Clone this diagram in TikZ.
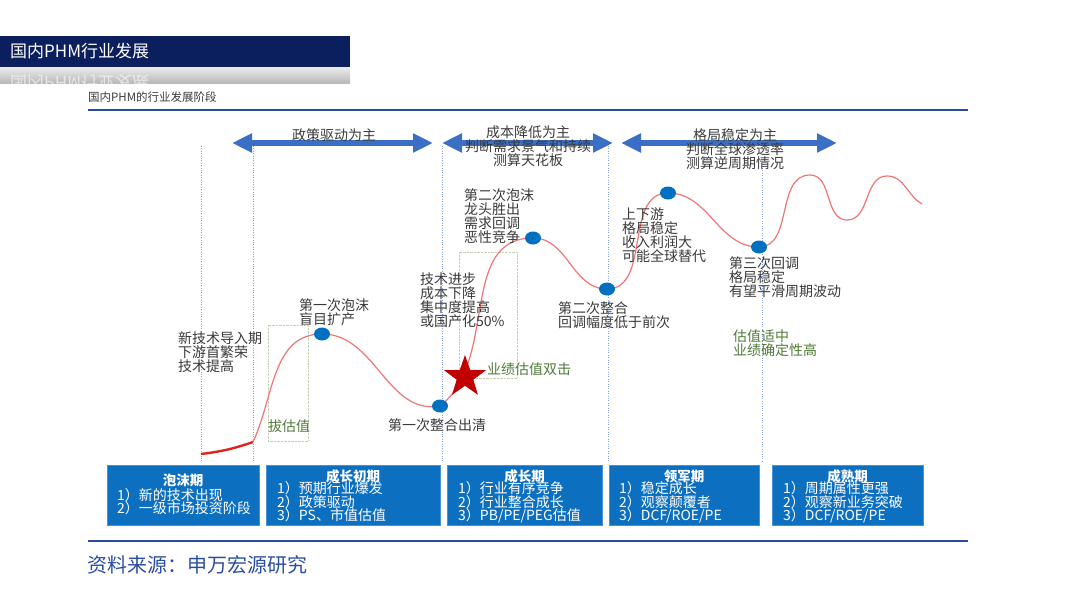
\documentclass[tikz,border=0pt]{standalone}
\usepackage{fontspec}
\setmainfont{Noto Sans CJK SC}
\usetikzlibrary{arrows.meta,shapes.geometric}
\definecolor{navy}{HTML}{0B1F5E}
\definecolor{rule}{HTML}{2B4C9C}
\definecolor{spanblue}{HTML}{3B6FC6}
\definecolor{dotblue}{HTML}{0070C0}
\definecolor{phaseblue}{HTML}{0D6FC0}
\definecolor{phaseedge}{HTML}{4A90D4}
\definecolor{guide}{HTML}{8AA4DA}
\definecolor{curvered}{HTML}{F27474}
\definecolor{hotred}{HTML}{E3231F}
\definecolor{starred}{HTML}{C00000}
\definecolor{txtgray}{HTML}{3A3A3A}
\definecolor{valgreen}{HTML}{4F7A38}
\definecolor{valbox}{HTML}{C2D1B4}
\definecolor{source}{HTML}{2A4E9E}
\begin{document}
\begin{tikzpicture}[
	x=1pt, y=1pt,
	dot/.style={ ellipse, fill=dotblue, inner sep=0pt, minimum width=16pt, minimum height=13pt },
	note/.style={ anchor=north west, align=left, inner sep=0pt, text=txtgray, font=\fontsize{14}{14}\selectfont },
	valnote/.style={ note, text=valgreen },
	spanlabel/.style={ anchor=north, align=center, inner sep=0pt, text=txtgray, font=\fontsize{14}{14}\selectfont },
	span/.style={ draw=spanblue, line width=6pt, {Triangle[length=20pt,width=18pt]}-{Triangle[length=20pt,width=18pt]} },
	guideline/.style={ draw=guide, thin, dotted },
	valframe/.style={ draw=valbox, thin, densely dotted },
	phase/.style={ draw=phaseedge, fill=phaseblue, line width=0.8pt, inner sep=0pt },
	phtitle/.style={ text=white, inner sep=0pt, font=\fontsize{13.5}{14}\selectfont\bfseries },
	phitem/.style={ anchor=north west, align=left, inner sep=0pt, text=white, font=\fontsize{14}{13.5}\selectfont },
	curve/.style={ draw=curvered, line width=1.2pt }
]

\useasboundingbox (0,0) rectangle (1080,-608);

\fill[navy] (0,-36) rectangle (350,-67);
\node at (10,-51) (head) [anchor=west, inner sep=0pt, text=white, font=\fontsize{17}{17}\selectfont] {国内PHM行业发展};
\begin{scope}
\clip (0,-67) rectangle (350,-83);
\shade[top color=gray!15, bottom color=gray!55] (0,-67) rectangle (350,-83);
\node at (10,-83) (headecho) [anchor=west, inner sep=0pt, text=white, opacity=0.6, yscale=-1, transform shape, font=\fontsize{17}{17}\selectfont] {国内PHM行业发展};
\end{scope}

\node at (88,-97) (subtitle) [anchor=west, inner sep=0pt, text=txtgray, font=\fontsize{11.5}{11.5}\selectfont] {国内PHM的行业发展阶段};
\draw[rule, line width=2.5pt] (88,-110) -- (968,-110);

\draw[guideline] (201,-146) -- (201,-462);
\draw[guideline] (253,-146) -- (253,-462);
\draw[guideline] (442,-146) -- (442,-462);
\draw[guideline] (608,-146) -- (608,-462);
\draw[guideline] (762,-168) -- (762,-462);

\coordinate (s1l) at (232,-143);
\coordinate (s1r) at (433,-143);
\coordinate (s2l) at (442,-143);
\coordinate (s2r) at (613,-143);
\coordinate (s3l) at (621,-143);
\coordinate (s3r) at (837,-143);
\draw[span] (s1l) -- (s1r);
\draw[span] (s2l) -- (s2r);
\draw[span] (s3l) -- (s3r);
\node at (334,-128) (policy) [spanlabel] {政策驱动为主};
\node at (528,-126) (cost) [spanlabel] {成本降低为主\\判断需求景气和持续\\测算天花板};
\node at (735,-128) (pattern) [spanlabel] {格局稳定为主\\判断全球渗透率\\测算逆周期情况};

\draw[valframe] (268,-325) rectangle (308,-441);
\draw[valframe] (459,-252) rectangle (517,-378);
\node at (289,-426) (lift) [inner sep=0pt, text=valgreen, font=\fontsize{14}{14}\selectfont] {拔估值};

\coordinate (c0) at (201,-454);
\coordinate (c1) at (253,-442);
\coordinate (p1) at (322,-334);
\coordinate (p2) at (440,-406);
\coordinate (p3) at (533,-238);
\coordinate (p4) at (607,-289);
\coordinate (p5) at (668,-193);
\coordinate (p6) at (759,-247);
\coordinate (q1) at (810,-175);
\coordinate (q2) at (847,-220);
\coordinate (q3) at (887,-176);
\coordinate (q4) at (922,-204);
\draw[draw=hotred, line width=2.4pt] (c0) to[bend right=6] (c1);
\draw[curve] (c1) to[out=65,in=180] (p1) to[out=0,in=190] (p2)
  to[out=38,in=180] (p3) to[out=0,in=180] (p4) to[out=0,in=180] (p5)
  to[out=0,in=180] (p6) to[out=0,in=180] (q1) to[out=0,in=180] (q2)
  to[out=0,in=180] (q3) to[out=0,in=150] (q4);

\node at (p1) (bubble1) [dot] {};
\node at (p2) (clear1) [dot] {};
\node at (p3) (bubble2) [dot] {};
\node at (p4) (clear2) [dot] {};
\node at (p5) (leader) [dot] {};
\node at (p6) (dip3) [dot] {};
\node at (465,-377) (double) [star, star points=5, star point ratio=2.5, fill=starred, inner sep=0pt, minimum size=44pt] {};

\node at (178,-331) (n1) [note] {新技术导入期\\下游首繁荣\\技术提高};
\node at (299,-298) (n2) [note] {第一次泡沫\\盲目扩产};
\node at (388,-418) (n3) [note] {第一次整合出清};
\node at (420,-273) (n4) [note] {技术进步\\成本下降\\集中度提高\\或国产化50\%};
\node at (464,-188) (n5) [note] {第二次泡沫\\龙头胜出\\需求回调\\恶性竞争};
\node at (558,-301) (n6) [note] {第二次整合\\回调幅度低于前次};
\node at (622,-208) (n7) [note] {上下游\\格局稳定\\收入利润大\\可能全球替代};
\node at (729,-256) (n8) [note] {第三次回调\\格局稳定\\有望平滑周期波动};
\node at (487,-363) (v1) [valnote] {业绩估值双击};
\node at (733,-330) (v2) [valnote] {估值适中\\业绩确定性高};

\node at (183,-495) (froth) [phase, minimum width=152pt, minimum height=60pt] {};
\node at (183,-480) [phtitle] {泡沫期};
\node at (117,-488) [phitem] {1）新的技术出现\\2）一级市场投资阶段};
\node at (353,-495) (early) [phase, minimum width=174pt, minimum height=60pt] {};
\node at (353,-476) [phtitle] {成长初期};
\node at (277,-481.5) [phitem] {1）预期行业爆发\\2）政策驱动\\3）PS、市值估值};
\node at (524.5,-495) (growth) [phase, minimum width=155pt, minimum height=60pt] {};
\node at (524.5,-476) [phtitle] {成长期};
\node at (458,-481.5) [phitem] {1）行业有序竞争\\2）行业整合成长\\3）PB/PE/PEG估值};
\node at (684,-495) (lead) [phase, minimum width=150pt, minimum height=60pt] {};
\node at (684,-476) [phtitle] {领军期};
\node at (619,-481.5) [phitem] {1）稳定成长\\2）观察颠覆者\\3）DCF/ROE/PE};
\node at (847.5,-495) (mature) [phase, minimum width=151pt, minimum height=60pt] {};
\node at (847.5,-476) [phtitle] {成熟期};
\node at (783,-481.5) [phitem] {1）周期属性更强\\2）观察新业务突破\\3）DCF/ROE/PE};

\draw[rule, line width=2.5pt] (88,-541) -- (968,-541);
\node at (87,-565) (src) [anchor=west, inner sep=0pt, text=source, font=\fontsize{20}{20}\selectfont] {资料来源：申万宏源研究};

\end{tikzpicture}
\end{document}
